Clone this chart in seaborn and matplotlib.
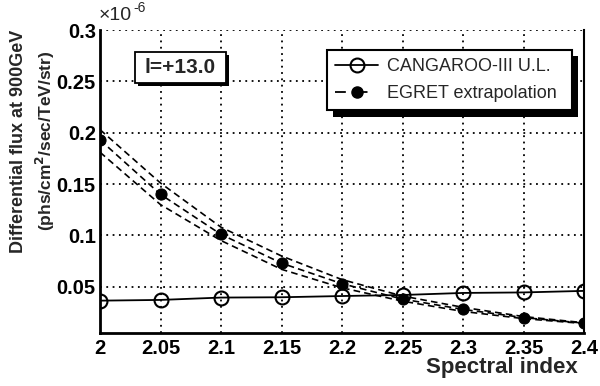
import matplotlib
matplotlib.use("Agg")
import matplotlib.pyplot as plt
from matplotlib.patches import Rectangle
from matplotlib.lines import Line2D
import seaborn as sns
import numpy as np

# ---- data (values in units of 1e-6) ----
spectral_index = [2.0, 2.05, 2.1, 2.15, 2.2, 2.25, 2.3, 2.35, 2.4]
cangaroo_ul = [0.0365, 0.0372, 0.0395, 0.0398, 0.0410, 0.0420, 0.0440, 0.0445, 0.0460]
egret_extrap = [0.193, 0.140, 0.101, 0.073, 0.053, 0.038, 0.028, 0.020, 0.0146]
egret_upper = [0.203, 0.151, 0.108, 0.080, 0.057, 0.041, 0.030, 0.021, 0.0150]
egret_lower = [0.181, 0.130, 0.095, 0.067, 0.049, 0.036, 0.026, 0.019, 0.0142]
x_ticks = [2.0, 2.05, 2.1, 2.15, 2.2, 2.25, 2.3, 2.35, 2.4]
x_ticklabels = ["2", "2.05", "2.1", "2.15", "2.2", "2.25", "2.3", "2.35", "2.4"]
y_ticks = [0.05, 0.1, 0.15, 0.2, 0.25, 0.3]
y_ticklabels = ["0.05", "0.1", "0.15", "0.2", "0.25", "0.3"]

sns.set_style("white")
plt.rcParams['font.family'] = ['Liberation Sans', 'DejaVu Sans']

W, H = 600, 386
fig = plt.figure(figsize=(W / 100, H / 100), dpi=100)

def fx(px):
    return px / W

def fy(py):
    return 1 - py / H

ax_l, ax_r, ax_t, ax_b = 100, 584, 30, 333
ax = fig.add_axes([fx(ax_l), fy(ax_b), fx(ax_r - ax_l), fy(ax_t) - fy(ax_b)])

dash = (0, (4, 2.5))
sns.lineplot(x=spectral_index, y=egret_upper, ax=ax, color='black', lw=1.2,
             linestyle=dash, zorder=3)
sns.lineplot(x=spectral_index, y=egret_lower, ax=ax, color='black', lw=1.2,
             linestyle=dash, zorder=3)
sns.lineplot(x=spectral_index, y=egret_extrap, ax=ax, color='black', lw=1.2,
             linestyle=dash, marker='o', markersize=8, markerfacecolor='black',
             markeredgecolor='black', zorder=4)
sns.lineplot(x=spectral_index, y=cangaroo_ul, ax=ax, color='black', lw=1.3,
             marker='o', markersize=10, markerfacecolor='none',
             markeredgecolor='black', markeredgewidth=1.5, zorder=5)

ax.set_xlim(2.0, 2.4)
ax.set_ylim(0.005, 0.3)
ax.set_xticks(x_ticks)
ax.set_xticklabels(x_ticklabels)
ax.set_yticks(y_ticks)
ax.set_yticklabels(y_ticklabels)
ax.set_xticks(np.arange(2.0, 2.4001, 0.01), minor=True)
ax.set_yticks(np.arange(0.01, 0.3001, 0.01), minor=True)
ax.tick_params(axis='both', which='major', direction='in', length=9, width=1.5,
               labelsize=14.5, colors='black')
ax.tick_params(axis='both', which='minor', direction='in', length=5, width=1.3)
ax.tick_params(axis='x', pad=4)
ax.tick_params(axis='y', pad=3)
for lab in ax.get_xticklabels() + ax.get_yticklabels():
    lab.set_fontweight('bold')

ax.grid(True, which='major', color='black', linestyle=(0, (1, 2.5)), lw=1.3)
for s in ['left', 'bottom']:
    ax.spines[s].set_linewidth(2)
    ax.spines[s].set_color('black')
ax.spines['right'].set_linewidth(1.5)
ax.spines['right'].set_color('black')
ax.spines['top'].set_visible(False)
ax.set_xlabel('')
ax.set_ylabel('')

# ---- legend with shadow ----
lx0, lx1, ly0, ly1 = 327, 572, 50, 111
sh = 6
fig.patches.append(Rectangle((fx(lx0 + sh), fy(ly1 + sh)), fx(lx1 - lx0), fy(ly0) - fy(ly1),
                             transform=fig.transFigure, facecolor='black',
                             edgecolor='none', zorder=8))
handles = [
    Line2D([], [], color='black', lw=1.3, marker='o', markersize=10,
           markerfacecolor='none', markeredgewidth=1.5),
    Line2D([], [], color='black', lw=1.3, linestyle=(0, (6, 6)), marker='o',
           markersize=8, markerfacecolor='black'),
]
leg = fig.legend(handles, ['CANGAROO-III U.L.', 'EGRET extrapolation'],
                 loc='upper left',
                 bbox_to_anchor=(fx(lx0), fy(ly1), fx(lx1 - lx0), fy(ly0) - fy(ly1)),
                 mode='expand', borderaxespad=0, fontsize=13, frameon=True,
                 fancybox=False, edgecolor='black', facecolor='white',
                 framealpha=1, handlelength=2.4, handletextpad=0.5,
                 labelspacing=0.55, borderpad=0.45)
leg.get_frame().set_linewidth(1.5)
leg.set_zorder(9)

# ---- label box with shadow ----
bx0, bx1, by0, by1 = 135, 226, 52, 83
bs = 3
fig.patches.append(Rectangle((fx(bx0 + bs), fy(by1 + bs)), fx(bx1 - bx0), fy(by0) - fy(by1),
                             transform=fig.transFigure, facecolor='black',
                             edgecolor='none', zorder=8))
fig.patches.append(Rectangle((fx(bx0), fy(by1)), fx(bx1 - bx0), fy(by0) - fy(by1),
                             transform=fig.transFigure, facecolor='white',
                             edgecolor='black', lw=1.3, zorder=9))
fig.text(fx((bx0 + bx1) / 2), fy((by0 + by1) / 2), 'l=+13.0', ha='center', va='center',
         fontsize=15, fontweight='bold', zorder=10)

# ---- axis titles ----
fig.text(fx(19), fy(141), 'Differential flux at 900GeV',
         rotation=90, ha='center', va='center', fontsize=13, fontweight='bold')
fig.text(fx(45), fy(141), '(phs/cm$^{\\mathbf{2}}$/sec/TeV/str)',
         rotation=90, ha='center', va='center', fontsize=12.5, fontweight='bold')
fig.text(fx(578), fy(368), 'Spectral index', ha='right', va='center',
         fontsize=16, fontweight='bold')
fig.text(fx(99), fy(16), '\u00d710', ha='left', va='center', fontsize=14)
fig.text(fx(133), fy(8), '-6', ha='left', va='center', fontsize=10)

fig.savefig('out.png', dpi=100)
